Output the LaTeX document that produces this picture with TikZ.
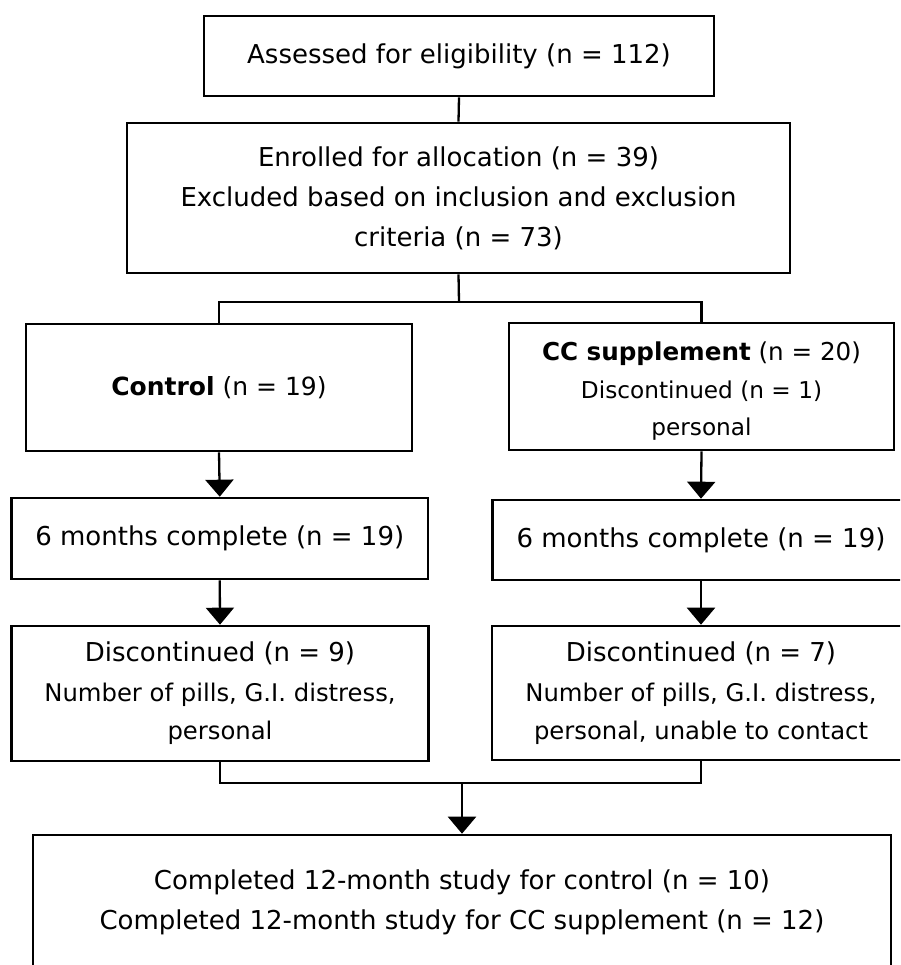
\documentclass[tikz,border=0pt]{standalone}
\usepackage{fontspec}
\setmainfont{DejaVu Sans}
\usetikzlibrary{arrows.meta}
\tikzset{
  box/.style={draw=black, line width=2.6pt, fill=white, align=center, inner sep=0pt,
    font=\fontsize{26}{40}\selectfont},
  conn/.style={draw=black, line width=2.3pt},
  arr/.style={conn, -{Triangle[width=28pt,length=17pt]}},
}
\newcommand{\smalltxt}[1]{{\fontsize{24.3}{37}\selectfont #1}}
\newcommand{\smallertxt}[1]{{\fontsize{23.2}{36}\selectfont #1}}
\begin{document}
\begin{tikzpicture}[x=1pt,y=-1pt]
\useasboundingbox (0,0) rectangle (900,965);
\clip (0,0) rectangle (900,965);
\fill[white] (0,0) rectangle (900,965);

\node[box, minimum width=510pt, minimum height=80pt] (assess) at (459,56)
  {Assessed for eligibility (n = 112)};
\node[box, minimum width=663pt, minimum height=150pt] (enroll) at (458.5,198)
  {Enrolled for allocation (n = 39)\\Excluded based on inclusion and exclusion\\criteria (n = 73)};
\node[box, minimum width=386pt, minimum height=127pt] (control) at (219,387.5)
  {{\fontsize{25}{40}\selectfont\textbf{Control} (n = 19)}};
\node[box, minimum width=385pt, minimum height=127pt] (cc) at (701.5,386.5)
  {\rule{0pt}{28pt}{\fontsize{24.6}{40}\selectfont\textbf{CC supplement} (n = 20)}\\[-2pt]\smallertxt{Discontinued (n = 1)}\\[-3pt]\smallertxt{personal}};
\node[box, minimum width=416.5pt, minimum height=81pt] (six1) at (219.75,538.5)
  {6 months complete (n = 19)};
\node[box, minimum width=417pt, minimum height=80pt] (six2) at (701,540)
  {6 months complete (n = 19)};
\node[box, minimum width=417.5pt, minimum height=135pt] (disc1) at (220,693.5)
  {Discontinued (n = 9)\\[0pt]\smalltxt{Number of pills, G.I. distress,}\\[-2pt]\smalltxt{personal}};
\node[box, minimum width=418pt, minimum height=134pt] (disc2) at (701,693)
  {Discontinued (n = 7)\\[0pt]\smalltxt{Number of pills, G.I. distress,}\\[-2pt]\smalltxt{personal, unable to contact}};
\node[box, minimum width=858pt, minimum height=134pt] (final) at (462,902)
  {Completed 12-month study for control (n = 10)\\Completed 12-month study for CC supplement (n = 12)};

\coordinate (split) at (459,302);
\coordinate (merge) at (462,783);

\draw[conn] (assess.south) -- (enroll.north);
\draw[conn] (enroll.south) -- (split);
\draw[conn] (control.north) |- (split) -| (cc.north);
\draw[arr] (control.south) -- (six1.north);
\draw[arr] (six1.south) -- (disc1.north);
\draw[arr] (cc.south) -- (six2.north);
\draw[arr] (six2.south) -- (disc2.north);
\draw[conn] (disc1.south) |- (merge) -| (disc2.south);
\draw[arr] (merge) -- (final.north);
\end{tikzpicture}
\end{document}
